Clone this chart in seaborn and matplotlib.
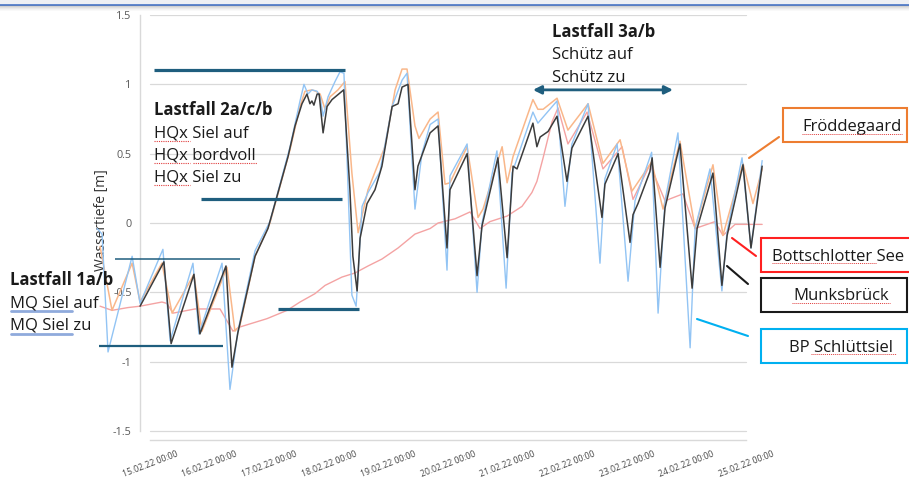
import numpy as np
import pandas as pd
import seaborn as sns
import matplotlib.pyplot as plt
import matplotlib.dates as mdates
from matplotlib.patches import Rectangle
from matplotlib.lines import Line2D
from matplotlib.ticker import MultipleLocator, FuncFormatter

# ---------------------------------------------------------
# data: hours after 15.02.22 00:00 and water depth [m]
# ---------------------------------------------------------
start = pd.Timestamp('2022-02-15 00:00')

mb_h = [-4.0, 5.6, 8.5, 17.7, 20.1, 30.6, 33.0, 35.4, 42.3, 47.5, 51.1, 55.6, 58.4, 61.2, 63.2,
        64.4, 65.2, 66.0, 67.3, 68.1, 69.7, 71.3, 73.3, 78.0, 80.5, 81.7, 83.4, 84.6, 87.4, 90.6,
        93.4, 95.4, 97.5, 99.9, 101.5, 103.9, 106.7, 107.9, 112.8, 116.0, 119.6, 120.8, 127.7,
        131.7, 133.7, 140.1, 143.8, 146.2, 147.8, 154.2, 155.8, 157.1, 160.3, 163.9, 167.9, 169.9,
        176.4, 182.0, 183.2, 188.5, 193.3, 194.5, 196.5, 201.3, 202.2, 205.4, 207.4, 213.4, 218.3,
        220.3, 226.7, 230.3, 232.4, 238.8, 242.0, 246.5]
mb_v = [-0.60, -0.28, -0.87, -0.37, -0.80, -0.31, -1.04, -0.79, -0.24, -0.04, 0.19, 0.48, 0.70, 0.86, 0.93,
        0.86, 0.88, 0.85, 0.93, 0.93, 0.65, 0.84, 0.89, 0.96, 0.24, -0.24, -0.49, -0.11, 0.14, 0.24,
        0.41, 0.62, 0.84, 0.86, 0.98, 1.00, 0.24, 0.41, 0.65, 0.70, -0.18, 0.24, 0.50,
        -0.38, -0.02, 0.47, -0.25, 0.41, 0.39, 0.72, 0.55, 0.62, 0.66, 0.77, 0.30, 0.54,
        0.77, 0.04, 0.28, 0.50, -0.14, 0.06, 0.14, 0.37, 0.47, -0.32, 0.11, 0.57, -0.47,
        -0.04, 0.36, -0.45, -0.09, 0.42, -0.18, 0.41]

bp_h = [-21.3, -19.3, -16.9, -7.2, -4.0, 5.2, 8.1, 17.3, 19.7, 29.0, 32.2, 35.4, 42.3, 48.3, 56.4,
        60.4, 62.0, 63.6, 65.2, 67.3, 68.5, 69.7, 71.7, 74.5, 76.5, 78.1, 81.3, 83.0, 85.4, 87.8,
        92.6, 97.5, 101.5, 103.5, 106.7, 109.5, 112.8, 116.0, 119.6, 120.8, 127.7, 131.7, 133.7,
        139.7, 143.4, 145.8, 154.2, 156.2, 163.9, 167.1, 169.9, 176.4, 181.2, 183.2, 188.1, 192.5,
        195.3, 202.0, 204.6, 207.4, 212.6, 217.5, 219.5, 225.5, 230.3, 232.4, 238.4, 242.0, 246.5]
bp_v = [-0.04, -0.08, -0.93, -0.24, -0.58, -0.19, -0.85, -0.29, -0.80, -0.29, -1.20, -0.78, -0.20, 0.01, 0.55,
        0.88, 1.00, 0.93, 0.96, 0.95, 0.91, 0.77, 0.91, 1.02, 1.09, 1.08, -0.52, -0.60, 0.12, 0.22,
        0.37, 0.84, 1.03, 1.08, 0.10, 0.50, 0.71, 0.75, -0.34, 0.34, 0.57, -0.50, 0.00,
        0.52, -0.47, 0.36, 0.80, 0.72, 0.88, 0.12, 0.57, 0.86, -0.29, 0.32, 0.57, -0.42,
        0.16, 0.51, -0.65, 0.16, 0.65, -0.90, -0.04, 0.39, -0.49, -0.06, 0.47, -0.18, 0.45]

fr_h = [-20.1, -15.3, -7.2, -4.0, 4.8, 8.9, 17.7, 20.9, 31.0, 34.2, 36.2, 42.3, 48.3, 56.4, 60.4,
        62.4, 65.2, 66.8, 68.5, 70.5, 72.5, 75.7, 78.5, 81.3, 83.8, 87.8, 94.6, 98.7, 101.5, 103.5,
        106.7, 108.3, 112.8, 116.0, 118.8, 120.8, 127.7, 132.1, 134.1, 141.8, 143.8, 146.2, 154.2,
        156.2, 158.3, 163.9, 168.3, 176.4, 182.4, 189.3, 194.1, 202.0, 206.6, 213.4, 219.5, 226.7,
        230.7, 238.8, 242.8, 246.5]
fr_v = [-0.17, -0.63, -0.29, -0.57, -0.29, -0.65, -0.37, -0.78, -0.32, -0.78, -0.74, -0.24, 0.00, 0.53, 0.84,
        0.95, 0.96, 0.95, 0.93, 0.82, 0.91, 0.96, 1.02, 0.36, -0.07, 0.24, 0.55, 0.96, 1.11, 1.11,
        0.70, 0.61, 0.75, 0.80, 0.28, 0.29, 0.55, 0.04, 0.10, 0.55, 0.29, 0.48, 0.89,
        0.82, 0.82, 0.90, 0.67, 0.86, 0.43, 0.60, 0.23, 0.44, 0.10, 0.59, -0.04, 0.42,
        -0.09, 0.43, 0.14, 0.39]

bs_h = [-20.1, -15.3, -8.9, -4.0, 4.8, 6.8, 9.3, 18.1, 28.2, 33.4, 36.2, 47.1, 55.2, 60.4, 66.4,
        70.5, 77.3, 82.6, 87.8, 93.4, 99.9, 106.7, 112.8, 116.0, 122.8, 128.9, 132.9, 136.9,
        143.8, 149.8, 153.8, 155.8, 158.3, 161.9, 164.3, 168.3, 176.0, 182.4, 190.1, 194.5,
        201.3, 207.4, 214.6, 219.5, 227.5, 230.7, 235.6, 246.5]
bs_v = [-0.60, -0.63, -0.61, -0.60, -0.57, -0.58, -0.65, -0.62, -0.62, -0.78, -0.75, -0.69, -0.63, -0.57, -0.51,
        -0.45, -0.39, -0.36, -0.31, -0.26, -0.18, -0.08, -0.04, 0.00, 0.03, 0.08, -0.04, 0.01,
        0.05, 0.12, 0.22, 0.30, 0.47, 0.73, 0.83, 0.57, 0.80, 0.39, 0.55, 0.17,
        0.42, 0.16, 0.21, -0.04, 0.01, -0.09, -0.01, -0.01]

stations = ['Bottschlotter See', 'Fröddegaard', 'BP Schlüttsiel', 'Munksbrück']
hours = [bs_h, fr_h, bp_h, mb_h]
values = [bs_v, fr_v, bp_v, mb_v]
colors = ['#F4A3A3', '#F9B78A', '#92C4F4', '#3C3C3C']
widths = [1.0, 1.1, 1.0, 1.1]

# Lastfall markers: (level, from hour, to hour, linewidth)
bar_lvl = [1.10, 0.17, -0.62, -0.26, -0.89]
bar_from = [1.6, 20.5, 51.5, -14.1, -20.5]
bar_to = [78.5, 77.3, 84.2, 36.2, 29.4]
bar_lw = [2.3, 2.3, 2.3, 1.1, 1.6]
arrow_lvl, arrow_from, arrow_to = 0.96, 154.2, 210.6

frames = []
for name, h, v in zip(stations, hours, values):
    frames.append(pd.DataFrame({'time': start + pd.to_timedelta(h, unit='h'),
                                'value': v, 'station': name}))
df = pd.concat(frames, ignore_index=True)

# ---------------------------------------------------------
# figure
# ---------------------------------------------------------
sns.set_style('white')
plt.rcParams['font.family'] = ['Open Sans', 'DejaVu Sans']
plt.rcParams['axes.unicode_minus'] = False

W, H = 909, 482
fig = plt.figure(figsize=(W / 100, H / 100), dpi=100)
ax = fig.add_axes([90 / W, 1 - 440 / H, 680 / W, 425 / H])

for i, name in enumerate(stations):
    sns.lineplot(data=df[df['station'] == name], x='time', y='value', color=colors[i],
                 lw=widths[i], estimator=None, sort=False, ax=ax, zorder=3 + i)

x0 = mdates.date2num(start.to_pydatetime())
ppd = 59.6  # pixels per day
ax.set_xlim(x0 - 60 / ppd, x0 + 620 / ppd)
ax.set_ylim(-1.565, 1.5)
ax.set_xlabel('')

grid = '#D9D9D9'
yt = [-1.5, -1, -0.5, 0, 0.5, 1, 1.5]
for v in yt:
    ax.axhline(v, xmin=60 / 680, xmax=656 / 680, color=grid, lw=0.9, zorder=0)

for s in ['top', 'right']:
    ax.spines[s].set_visible(False)
ax.spines['left'].set_position(('data', x0 - 10 / ppd))
ax.spines['left'].set_bounds(-1.5, 1.5)
ax.spines['bottom'].set_bounds(x0, x0 + 10)
for s in ['left', 'bottom']:
    ax.spines[s].set_color(grid)
    ax.spines[s].set_linewidth(1.0)

ax.set_yticks(yt)
ax.yaxis.set_major_formatter(FuncFormatter(lambda v, p: f'{v:g}'))
ax.yaxis.set_minor_locator(MultipleLocator(0.1))
ax.tick_params(axis='y', which='both', direction='in', length=3, color=grid,
               labelsize=7.8, labelcolor='#595959', pad=6)

ax.set_xticks([x0 + d for d in range(11)])
ax.xaxis.set_major_formatter(mdates.DateFormatter('%d.%m.%y %H:%M'))
ax.tick_params(axis='x', direction='out', length=5, color=grid,
               labelsize=6.2, labelcolor='#474747', pad=2)
plt.setp(ax.get_xticklabels(), rotation=21, ha='center')

ax.set_ylabel('Wassertiefe [m]', fontsize=10, color='#333333')
ax.yaxis.set_label_coords(19 / 680, (440 - 220) / 425)

# Lastfall bars and arrow
teal = '#1F5E7E'
for lvl, a, b, lw in zip(bar_lvl, bar_from, bar_to, bar_lw):
    ax.hlines(lvl, x0 + a / 24, x0 + b / 24, color=teal, lw=lw, zorder=8)
ax.annotate('', xy=(x0 + arrow_to / 24, arrow_lvl), xytext=(x0 + arrow_from / 24, arrow_lvl),
            arrowprops=dict(arrowstyle='<|-|>', color=teal, lw=2, mutation_scale=12,
                            shrinkA=0, shrinkB=0), zorder=8)


def ftext(x, y, s, **kw):
    fig.text(x / W, 1 - y / H, s, va='baseline', fontsize=12, color='#1A1A1A', **kw)


def fline(xs, ys, **kw):
    fig.add_artist(Line2D([x / W for x in xs], [1 - y / H for y in ys],
                          transform=fig.transFigure, **kw))


def fbox(x1, y1, x2, y2, ec):
    fig.add_artist(Rectangle((x1 / W, 1 - y2 / H), (x2 - x1) / W, (y2 - y1) / H,
                             transform=fig.transFigure, facecolor='white',
                             edgecolor=ec, lw=1.5, zorder=10))


# text blocks
ftext(154, 115, 'Lastfall 2a/c/b', fontweight='bold')
ftext(154, 137, 'HQx Siel auf')
ftext(154, 160, 'HQx bordvoll')
ftext(154, 182, 'HQx Siel zu')
ftext(10, 285, 'Lastfall 1a/b', fontweight='bold')
ftext(10, 308, 'MQ Siel auf')
ftext(10, 330, 'MQ Siel zu')
ftext(552, 37, 'Lastfall 3a/b', fontweight='bold')
ftext(552, 59, 'Schütz auf')
ftext(552, 82, 'Schütz zu')

# spell-check marks
sq = dict(color='#E03C3C', lw=0.8, ls=(0, (1, 1)))
fline([154, 190], [141, 141], **sq)
fline([154, 190], [163, 163], **sq)
fline([193, 257], [163, 163], **sq)
fline([154, 190], [185, 185], **sq)
fline([11, 72], [311, 311], color='#8FAADC', lw=2)
fline([11, 72], [334, 334], color='#8FAADC', lw=2)

# callout boxes
fbox(783, 108, 907, 142, '#ED7D31')
fbox(761, 238, 915, 272, '#FF2020')
fbox(761, 278, 907, 312, '#1A1A1A')
fbox(761, 329, 907, 363, '#00B0F0')
for x, y, s in [(852, 131.5, 'Fröddegaard'), (841, 300.5, 'Munksbrück'), (841, 352, 'BP Schlüttsiel')]:
    fig.text(x / W, 1 - y / H, s, ha='center', va='baseline', fontsize=12, color='#1A1A1A', zorder=11)
fig.text(772 / W, 1 - 261 / H, 'Bottschlotter See', ha='left', va='baseline', fontsize=12,
         color='#1A1A1A', zorder=11)
sq2 = dict(color='#E03C3C', lw=0.7, ls=(0, (1, 1)), zorder=12)
fline([802, 902], [134, 134], **sq2)
fline([772, 876], [263, 263], **sq2)
fline([792, 890], [303, 303], **sq2)
fline([811, 896], [354, 354], **sq2)

fline([749, 779], [158, 137], color='#ED7D31', lw=1.5)
fline([732, 756], [238, 256], color='#FF2020', lw=1.5)
fline([727, 748], [266, 284], color='#1A1A1A', lw=1.5)
fline([697, 748], [319, 336], color='#00B0F0', lw=1.5)

# window frame strip at the top
fig.add_artist(Rectangle((0, 1 - 4 / H), 1, 4 / H, transform=fig.transFigure,
                         facecolor='#EEF0F4', edgecolor='none'))
fline([0, W], [4.5, 4.5], color='#4472C4', lw=1.2)
for i, a in enumerate([0.45, 0.32, 0.22, 0.14, 0.08, 0.04]):
    fig.add_artist(Rectangle((0, 1 - (6.2 + i) / H), 1, 1.05 / H, transform=fig.transFigure,
                             facecolor='#707070', alpha=a, edgecolor='none'))

fig.savefig('out.png', dpi=100)
